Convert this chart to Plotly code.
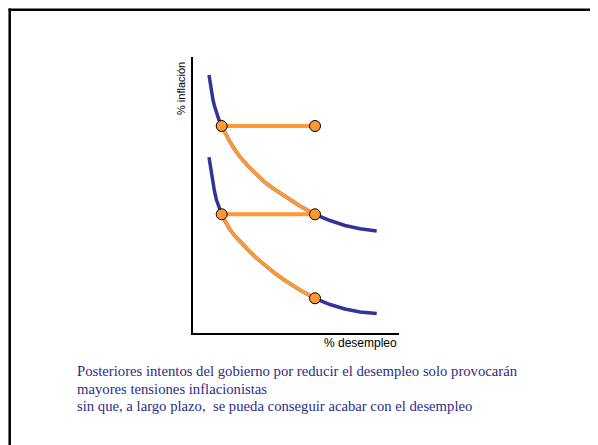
import plotly.graph_objects as go

# Data (chart units: x 0-206, y 0-276)
curve_x = [16, 17, 18, 19, 20, 21.5, 23.5, 26, 28.7, 32, 37, 42, 47, 55, 63.7, 72,
           80.3, 92, 107, 122, 137, 152, 167, 183.7]
upper_y = [258, 251, 244, 238, 233, 227, 220, 213, 207, 200, 191, 183, 176, 167, 158, 150.5,
           144.5, 136.5, 127, 118.7, 112.5, 107.5, 104.2, 102.1]
lower_y = [175.7, 168.5, 161.5, 155, 149, 141.5, 133, 125, 118.7, 112, 103.5, 97, 91.5, 83.2,
           74.7, 67.5, 61, 52.5, 43, 34.7, 28.5, 24, 21, 19.5]

point_x = [28.7, 122, 122, 28.7, 122]
point_y = [207, 207, 118.7, 118.7, 34.7]

x_label = "% desempleo"
y_label = "% inflación"
caption = [
    "Posteriores intentos del gobierno por reducir el desempleo solo provocarán",
    "mayores tensiones inflacionistas",
    "sin que, a largo plazo,  se pueda conseguir acabar con el desempleo",
]

BLUE = "#333399"
ORANGE = "#FF9933"

fig = go.Figure()
fig.add_trace(go.Scatter(x=curve_x, y=upper_y, mode="lines", line=dict(color=BLUE, width=3.5), hoverinfo="skip"))
fig.add_trace(go.Scatter(x=curve_x, y=lower_y, mode="lines", line=dict(color=BLUE, width=3.5), hoverinfo="skip"))

# orange paths along curves between the marked points
i0, i1 = curve_x.index(point_x[0]), curve_x.index(point_x[1])
fig.add_trace(go.Scatter(x=curve_x[i0:i1 + 1], y=upper_y[i0:i1 + 1], mode="lines",
                         line=dict(color=ORANGE, width=3.5), hoverinfo="skip"))
fig.add_trace(go.Scatter(x=curve_x[i0:i1 + 1], y=lower_y[i0:i1 + 1], mode="lines",
                         line=dict(color=ORANGE, width=3.5), hoverinfo="skip"))
# horizontal moves
fig.add_trace(go.Scatter(x=point_x[0:2], y=point_y[0:2], mode="lines", line=dict(color=ORANGE, width=4), hoverinfo="skip"))
fig.add_trace(go.Scatter(x=[point_x[3], point_x[2]], y=[point_y[3], point_y[2]], mode="lines",
                         line=dict(color=ORANGE, width=4), hoverinfo="skip"))
# markers
fig.add_trace(go.Scatter(x=point_x, y=point_y, mode="markers",
                         marker=dict(color=ORANGE, size=11, line=dict(color="black", width=1)), hoverinfo="skip"))

OFF = 8  # page body margin
W, H = 598, 445
plot_left, plot_right, plot_top, plot_bottom = 193, 399, 57, 333  # reference pixels
L = plot_left - OFF
T = plot_top - OFF
pw = plot_right - plot_left
ph = plot_bottom - plot_top
R = W - L - pw
B = H - T - ph

def px(x):
    return (x - plot_left) / pw

def py(y):
    return (plot_bottom - y) / ph

annotations = [
    dict(x=px(398.5), y=py(343), xref="paper", yref="paper", text=x_label, showarrow=False,
         xanchor="right", yanchor="middle", font=dict(family="Liberation Sans", size=12, color="black")),
    dict(x=px(181), y=py(89), xref="paper", yref="paper", text=y_label, showarrow=False, textangle=-90,
         xanchor="center", yanchor="middle", font=dict(family="Liberation Sans", size=11, color="black")),
]
for line, yy in zip(caption, [371, 389, 406]):
    annotations.append(dict(x=px(75), y=py(yy), xref="paper", yref="paper", text=line, showarrow=False,
                            xanchor="left", yanchor="middle",
                            font=dict(family="Liberation Serif", size=14.7, color="#2B2B8C")))

shapes = [
    dict(type="line", xref="paper", yref="paper", x0=px(9.7), x1=px(9.7), y0=py(8.5), y1=py(470),
         line=dict(color="black", width=2.5)),
    dict(type="line", xref="paper", yref="paper", x0=px(8.5), x1=px(640), y0=py(9.7), y1=py(9.7),
         line=dict(color="black", width=2.5)),
]

fig.update_layout(
    width=W, height=H, margin=dict(l=L, r=R, t=T, b=B),
    paper_bgcolor="white", plot_bgcolor="white", showlegend=False,
    annotations=annotations, shapes=shapes,
    xaxis=dict(range=[0, pw], showline=True, linecolor="black", linewidth=2, showticklabels=False,
               showgrid=False, zeroline=False, ticks=""),
    yaxis=dict(range=[0, ph], showline=True, linecolor="black", linewidth=2, showticklabels=False,
               showgrid=False, zeroline=False, ticks=""),
)
fig.write_html("out.html")
